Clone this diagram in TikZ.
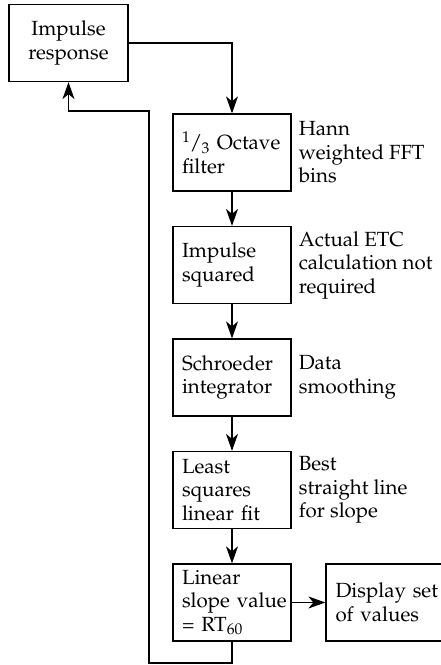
\documentclass[tikz,border=0pt]{standalone}
\usepackage[T1]{fontenc}
\usepackage{mathpazo}
\usetikzlibrary{arrows.meta}
\begin{document}
\begin{tikzpicture}[x=1pt,y=-1pt,
  txt/.style={font=\fontsize{20.5}{23.5}\selectfont},
  box/.style={txt, draw, line width=1.25pt, minimum width=118pt, minimum height=77pt,
    text width=100pt, inner xsep=9pt, inner ysep=0pt, align=left},
  note/.style={txt, anchor=west, inner sep=0pt, align=left},
  arr/.style={-{Stealth[length=17pt,width=12pt,inset=5pt]}, line width=1.25pt}]
\useasboundingbox (0,0) rectangle (440,665);
\node[box, align=center, minimum width=119pt] (ir) at (68.5,43) {Impulse\\response};
\node[box] (oct) at (232,152.5) {\textsuperscript{1}\kern-0.5pt/\kern-0.5pt\textsubscript{3} Octave\\filter};
\node[box] (sq) at (232,265) {Impulse\\squared};
\node[box] (sch) at (232,377.5) {Schroeder\\integrator};
\node[box] (ls) at (232,490) {Least\\squares\\linear~fit};
\node[box] (lin) at (232,602.5) {Linear\\slope~value\\= RT\textsubscript{60}};
\node[box, minimum width=119pt] (disp) at (385.5,602.5) {Display~set\\of~values};
\node[note] (n1) at ([xshift=7pt]oct.east) {Hann\\weighted~FFT\\bins};
\node[note] (n2) at ([xshift=7pt]sq.east) {Actual~ETC\\calculation~not\\required};
\node[note] (n3) at ([xshift=7pt]sch.east) {Data\\smoothing};
\node[note] (n4) at ([xshift=7pt]ls.east) {Best\\straight~line\\for~slope};
\coordinate (fb1) at (149,663);
\coordinate (fb2) at (149,111);
\draw[arr] (ir.east) -| (oct.north);
\draw[arr] (oct) -- (sq);
\draw[arr] (sq) -- (sch);
\draw[arr] (sch) -- (ls);
\draw[arr] (ls) -- (lin);
\draw[arr] (lin) -- (disp);
\draw[arr] (lin.south) |- (fb1) -- (fb2) -| (ir.south);
\end{tikzpicture}
\end{document}
